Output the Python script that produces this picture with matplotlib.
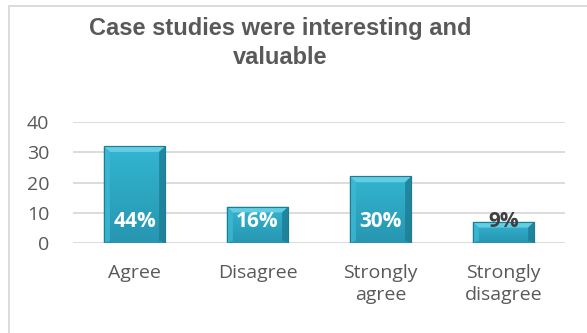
import matplotlib.pyplot as plt
from matplotlib.patches import Polygon, Rectangle
import numpy as np

categories = ["Agree", "Disagree", "Strongly\nagree", "Strongly\ndisagree"]
counts = [32, 12, 22, 7]
shares = ["44%", "16%", "30%", "9%"]
yticks = [0, 10, 20, 30, 40]

face = "#2BA7C4"
top_bevel = "#63CDE4"
side_bevel = "#1D7D93"
text_gray = "#595959"

fig = plt.figure(figsize=(5.87, 3.33), dpi=100)
# chart frame (only the top and left edges fall inside the image)
fig.patches.append(Rectangle((9 / 587, -0.05), 1.2, 1 - 6 / 333 + 0.05,
                             transform=fig.transFigure, fill=False,
                             edgecolor="#D9D9D9", linewidth=1.3))

ax = fig.add_axes([73 / 587, 1 - 243 / 333, 492 / 587, 121 / 333])
x = np.arange(len(categories))
width = 0.5
bw = 0.05   # bevel width (x units)
bh = 1.9    # bevel height (y units)

ax.set_xlim(-0.5, len(categories) - 0.5)
ax.set_ylim(0, 40)
ax.set_yticks(yticks)
for t in yticks:
    ax.axhline(t, color="#D9D9D9", linewidth=1.3, zorder=0)

grad = np.linspace(1, 0, 64).reshape(-1, 1)
fade = plt.matplotlib.colors.LinearSegmentedColormap.from_list(
    "f", ["#2796B1", "#33B5D1"])
for xi, v, lab in zip(x, counts, shares):
    l, r = xi - width / 2, xi + width / 2
    bar = ax.bar(xi, v, width, color=face, edgecolor=side_bevel,
                 linewidth=0.8, zorder=2)[0]
    im = ax.imshow(grad, extent=(l, r, 0, v), aspect="auto", cmap=fade,
                   zorder=2.1)
    im.set_clip_path(bar)
    # bevels
    ax.add_patch(Polygon([(l, v), (r, v), (r - bw, v - bh), (l + bw, v - bh)],
                         closed=True, color=top_bevel, lw=0, zorder=2.2))
    ax.add_patch(Polygon([(r, v), (r, 0), (r - bw, bh * 0.4), (r - bw, v - bh)],
                         closed=True, color=side_bevel, lw=0, zorder=2.2, alpha=0.8))
    ax.add_patch(Polygon([(l, v), (l, 0), (l + bw, bh * 0.4), (l + bw, v - bh)],
                         closed=True, color="#3DB9D3", lw=0, zorder=2.2, alpha=0.8))
    ax.add_patch(Rectangle((l, 0), width, v, fill=False, edgecolor=side_bevel,
                           linewidth=0.8, zorder=2.3))
    inside = v > 9
    ax.text(xi, 7.2, lab, ha="center", va="center", fontsize=15,
            fontweight="bold", family="Open Sans",
            color="white" if inside else "#404040", zorder=3)

ax.set_xticks(x)
ax.set_xticklabels(categories, fontsize=14, color=text_gray,
                   family="Open Sans", linespacing=1.3)
ax.tick_params(axis="x", length=0, pad=15)
ax.tick_params(axis="y", length=0, pad=17, labelsize=14, labelcolor=text_gray)
for t in ax.get_yticklabels():
    t.set_family("Open Sans")
for s in ax.spines.values():
    s.set_visible(False)
ax.set_facecolor("none")

fig.text(0.477, 1 - 43 / 333, "Case studies were interesting and\nvaluable",
         ha="center", va="center", fontsize=17, fontweight="bold",
         family="Liberation Sans", color=text_gray, linespacing=1.35)

fig.savefig("out.png", dpi=100)
